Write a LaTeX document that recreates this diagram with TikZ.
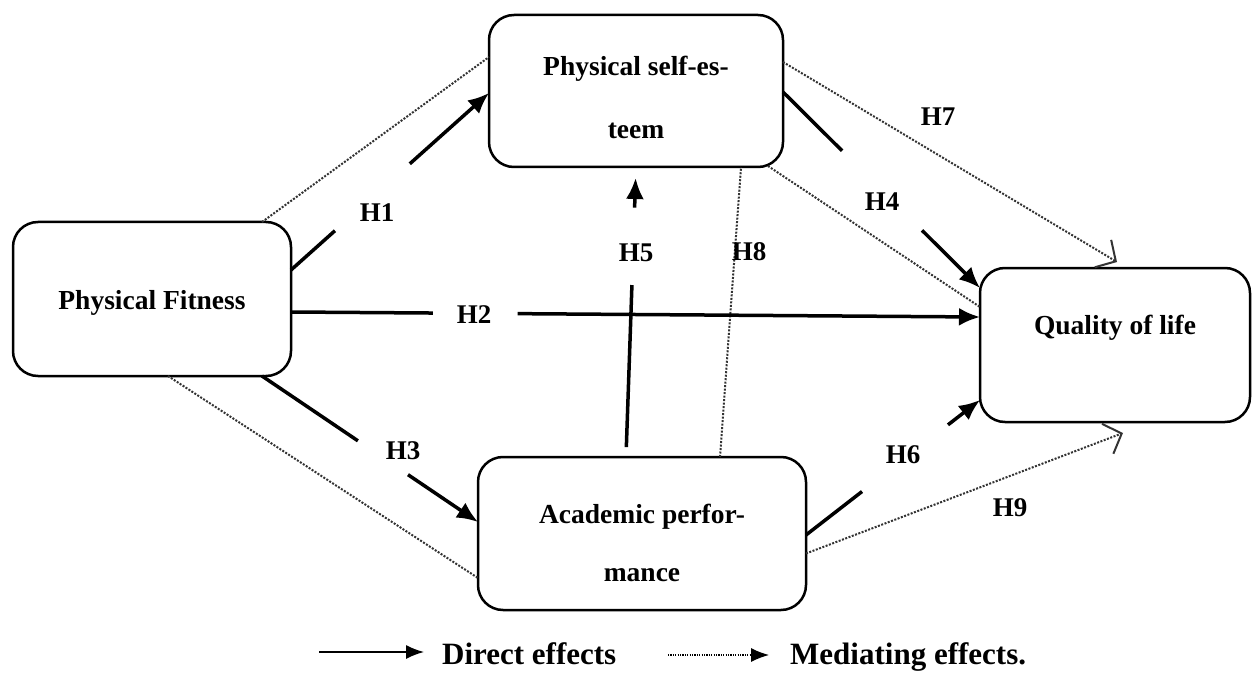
\documentclass[tikz,border=0pt]{standalone}
\usepackage{fontspec}
\setmainfont{Liberation Serif}
\usetikzlibrary{arrows.meta,calc}
\begin{document}
\begin{tikzpicture}[x=1pt,y=-1pt,
  box/.style={draw, line width=2.5pt, rounded corners=25pt, inner sep=0pt, outer sep=0pt, align=center, fill=white},
  bfont/.style={font=\fontsize{27.5}{63}\selectfont\bfseries},
  direct/.style={line width=3.5pt},
  dtip/.style={-{Latex[length=21pt,width=18pt]}},
  medi/.style={line width=2pt, dash pattern=on 2pt off 1.5pt, black!80},
  otip/.style={-{Straight Barb[length=15pt,width=32pt,line width=2pt]}},
  lab/.style={font=\fontsize{27}{32}\selectfont\bfseries, inner sep=0pt},
  leg/.style={font=\fontsize{31}{36}\selectfont\bfseries, inner sep=0pt}]
\useasboundingbox (0,0) rectangle (1254,698);
% boxes
\node[box, bfont, minimum width=278pt, minimum height=154pt] (pf) at (152,299) {\rule{0pt}{27pt}Physical Fitness};
\node[box, bfont, minimum width=294pt, minimum height=152pt] (pse) at (636,91) {\rule{0pt}{33pt}Physical self-es-\\teem};
\node[box, bfont, minimum width=270pt, minimum height=154pt] (qol) at (1115,345) {Quality of life\rule[-41pt]{0pt}{41pt}};
\node[box, font=\fontsize{27.5}{58}\selectfont\bfseries, minimum width=328pt, minimum height=153pt] (ap) at (642,533.5) {\rule{0pt}{39pt}Academic perfor-\\mance};
% mediating (dotted) connectors
\draw[medi] ([xshift=110pt]pf.north) -- ([yshift=34pt]pse.west);
\draw[medi, otip] ([yshift=29pt]pse.east) -- ([shift={(2,-6)}]qol.north);
\draw[medi] ([shift={(-15,-1)}]pse.south east) -- ([yshift=38pt]qol.west);
\draw[medi] ([xshift=78pt]ap.north) -- ([xshift=105pt]pse.south);
\draw[medi] ([xshift=16pt]pf.south) -- ([yshift=-44.5pt]ap.west);
\draw[medi, otip] ([yshift=-20pt]ap.east) -- ([shift={(8,11)}]qol.south);
% direct connectors with gaps for the labels
\path ([yshift=29pt]pf.east) -- ([yshift=-2pt]pse.west) coordinate[pos=0.222] (h1a) coordinate[pos=0.60] (h1b);
\draw[direct] ([yshift=29pt]pf.east) -- (h1a);
\draw[direct, dtip] (h1b) -- ([yshift=-2pt]pse.west);
\path ([yshift=-13pt]pf.east) -- ([yshift=28pt]qol.west) coordinate[pos=0.206] (h2a) coordinate[pos=0.329] (h2b);
\draw[direct] ([yshift=-13pt]pf.east) -- (h2a);
\draw[direct, dtip] (h2b) -- ([yshift=28pt]qol.west);
\path ([xshift=110pt]pf.south) -- ([yshift=11.5pt]ap.west) coordinate[pos=0.444] (h3a) coordinate[pos=0.676] (h3b);
\draw[direct] ([xshift=110pt]pf.south) -- (h3a);
\draw[direct, dtip] (h3b) -- ([yshift=11.5pt]ap.west);
\path ([yshift=-1pt]pse.east) -- ([yshift=57pt]qol.west) coordinate[pos=0.30] (h4a) coordinate[pos=0.706] (h4b);
\draw[direct] ([yshift=-1pt]pse.east) -- (h4a);
\draw[direct, dtip] (h4b) -- ([yshift=57pt]qol.west);
\path ([xshift=-16pt]ap.north) -- (pse.south) coordinate[pos=0.034] (h5a) coordinate[pos=0.593] (h5b) coordinate[pos=0.86] (h5c);
\draw[direct] (h5a) -- (h5b);
\draw[direct, dtip, shorten >=11pt] (h5c) -- (pse.south);
\path ([yshift=-1.5pt]ap.east) -- ([yshift=-55pt]qol.west) coordinate[pos=0.322] (h6a) coordinate[pos=0.816] (h6b);
\draw[direct] ([yshift=-1.5pt]ap.east) -- (h6a);
\draw[direct, dtip] (h6b) -- ([yshift=-55pt]qol.west);
% labels
\node[lab] (lh1) at (377,213) {H1};
\node[lab] (lh2) at (474,315) {H2};
\node[lab] (lh3) at (403,451) {H3};
\node[lab] (lh4) at (882,202) {H4};
\node[lab] (lh5) at (636,253) {H5};
\node[lab] (lh6) at (903,455) {H6};
\node[lab] (lh7) at (938,117) {H7};
\node[lab] (lh8) at (749,252) {H8};
\node[lab] (lh9) at (1010,508) {H9};
% legend
\coordinate (l1a) at (319,652);
\coordinate (l1b) at (424,652);
\draw[line width=1.5pt, -{Latex[length=18pt,width=14pt]}] (l1a) -- (l1b);
\node[leg, anchor=base west] (ld) at (442,664) {Direct effects};
\coordinate (l2a) at (668,655);
\coordinate (l2b) at (769,655);
\draw[line width=1.2pt, dash pattern=on 1.2pt off 1.2pt, -{Latex[length=18pt,width=14pt]}] (l2a) -- (l2b);
\node[leg, anchor=base west] (lm) at (790,664) {Mediating effects.};
\end{tikzpicture}
\end{document}
